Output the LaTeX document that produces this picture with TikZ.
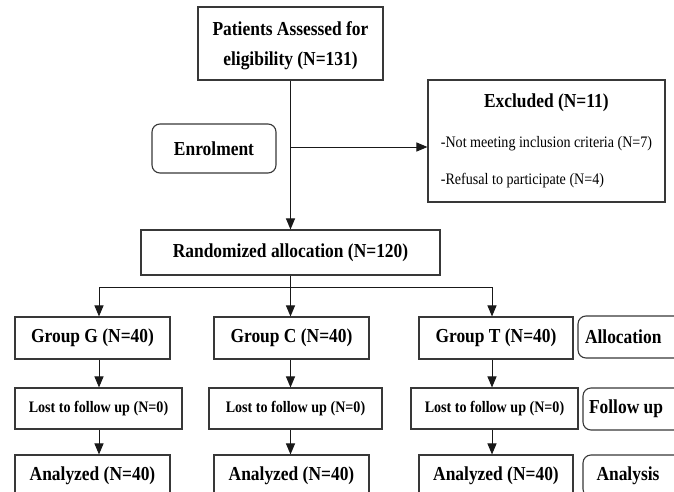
\documentclass[tikz,border=0pt]{standalone}
\usepackage{fontspec}
\setmainfont{Liberation Serif}[FakeStretch=0.88]
\usetikzlibrary{arrows.meta}
\newcommand\myBig{\fontsize{19.8}{28}\selectfont\bfseries}
\newcommand\myTop{\fontsize{19.8}{30}\selectfont\bfseries}
\newcommand\mySmall{\fontsize{16}{37}\selectfont}
\newcommand\mySmallBold{\fontsize{16}{20}\selectfont\bfseries}
\tikzset{
  box/.style={draw=black!78, line width=1.1pt, inner sep=0pt, align=center, font=\myBig, text=black},
  rbox/.style={box, rounded corners=8pt},
  conn/.style={line width=1pt, draw=black!90},
  arr/.style={conn, -{Triangle[length=11pt,width=9pt]}},
}
\begin{document}
\begin{tikzpicture}[x=1pt,y=-1pt]
\useasboundingbox[fill=white] (0,0) rectangle (674,492);
% top part
\node[box, minimum width=185pt, minimum height=73pt, font=\myTop, text depth=0pt] (top) at (290.5,43.5) {Patients Assessed for\\eligibility (N=131)};
\node[box, minimum width=237pt, minimum height=122pt, align=left, font=\mySmall] (excl) at (546.5,141)
  {\makebox[211pt]{\myBig Excluded (N=11)}\\[3pt]-Not meeting inclusion criteria (N=7)\\-Refusal to participate (N=4)};
\node[rbox, minimum width=124pt, minimum height=49pt] (enrol) at (214,148.5) {Enrolment};
\node[box, minimum width=299pt, minimum height=45pt] (rand) at (290.5,252.5) {Randomized allocation (N=120)};
% groups
\node[box, minimum width=155pt, minimum height=42pt] (gG) at (92.5,338) {Group G (N=40)};
\node[box, minimum width=155pt, minimum height=42pt] (gC) at (291.5,338) {Group C (N=40)};
\node[box, minimum width=154pt, minimum height=42pt] (gT) at (496,338) {Group T (N=40)};
\node[rbox, minimum width=122pt, minimum height=42pt] (alloc) at (639,337) {\makebox[108pt][l]{Allocation}};
% lost
\node[box, minimum width=167pt, minimum height=41pt, font=\mySmallBold] (lG) at (98.5,408.5) {Lost to follow up (N=0)};
\node[box, minimum width=173pt, minimum height=41pt, font=\mySmallBold] (lC) at (295.5,408.5) {Lost to follow up (N=0)};
\node[box, minimum width=167pt, minimum height=41pt, font=\mySmallBold] (lT) at (494.5,408.5) {Lost to follow up (N=0)};
\node[rbox, minimum width=117pt, minimum height=42pt] (follow) at (641.5,409) {\makebox[105pt][l]{Follow up}};
% analyzed
\node[box, minimum width=155pt, minimum height=42pt] (aG) at (92.5,476) {Analyzed (N=40)};
\node[box, minimum width=155pt, minimum height=42pt] (aC) at (291.5,476) {Analyzed (N=40)};
\node[box, minimum width=154pt, minimum height=42pt] (aT) at (496,476) {Analyzed (N=40)};
\node[rbox, minimum width=117pt, minimum height=42pt] (analysis) at (641.5,476) {\makebox[100pt][l]{\hspace{5pt}Analysis}};
% connectors
\coordinate (split) at (290.5,147);
\coordinate (bl) at (99,287);
\coordinate (bc) at (290.5,287);
\coordinate (br) at (492,287);
\draw[arr] (top) -- (rand);
\draw[arr] (split) -- (split -| excl.west);
\draw[conn] (rand.south) -- (bc);
\draw[conn] (bl) -- (br);
\draw[arr] (bl) -- (bl |- gG.north);
\draw[arr] (bc) -- (bc |- gC.north);
\draw[arr] (br) -- (br |- gT.north);
\draw[arr] (bl |- gG.south) -- (bl |- lG.north);
\draw[arr] (bc |- gC.south) -- (bc |- lC.north);
\draw[arr] (br |- gT.south) -- (br |- lT.north);
\draw[arr] (bl |- lG.south) -- (bl |- aG.north);
\draw[arr] (bc |- lC.south) -- (bc |- aC.north);
\draw[arr] (br |- lT.south) -- (br |- aT.north);
\end{tikzpicture}
\end{document}
